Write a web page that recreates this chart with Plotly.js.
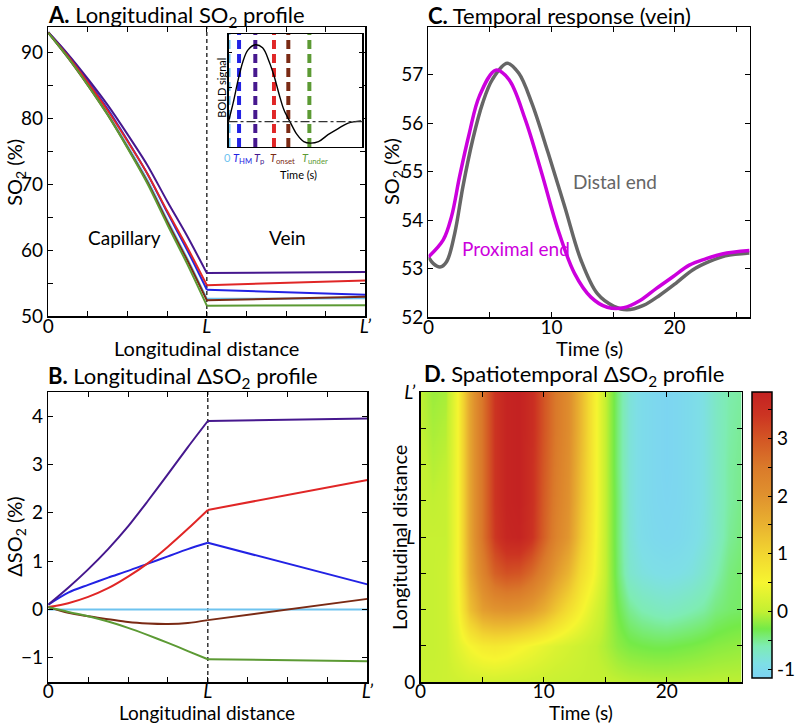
<!DOCTYPE html>
<html><head><meta charset="utf-8">
<script src="https://cdn.plot.ly/plotly-3.0.1.min.js"></script>
<style>html,body{margin:0;padding:0;background:#fff;}#chart{width:800px;height:725px;}</style>
</head><body><div id="chart"></div>
<script>
// ---------- Panels A & B: longitudinal profiles ----------
const positions = [0, 0.5, 1, 1.5, 2, 2.5, 3, 3.5, 4, 8];
const distTickVals = [0, 4, 8];
const distTickText = ['0', '<i>L</i>', '<i>L’</i>'];
const seriesColors = ['#6ec3ef', '#2222e4', '#46188e', '#e02626', '#7a2a14', '#5c9a34'];

const so2_t0     = [92.9, 89.2, 85.1, 80.7, 75.8, 70.6, 64.6, 58.8, 52.6, 52.7];
const so2_tHM    = [93.0, 89.55, 85.61, 81.36, 76.6, 71.55, 65.7, 60.05, 53.98, 53.22];
const so2_tP     = [93.0, 89.65, 85.93, 81.95, 77.52, 72.85, 67.4, 62.16, 56.5, 56.65];
const so2_tRed   = [92.95, 89.33, 85.36, 81.14, 76.48, 71.56, 65.9, 60.47, 54.66, 55.38];
const so2_tOnset = [92.95, 89.13, 84.96, 80.5, 75.54, 70.31, 64.3, 58.52, 52.38, 52.92];
const so2_tUnder = [92.95, 89.15, 84.96, 80.45, 75.42, 70.07, 63.91, 57.94, 51.57, 51.63];

const dso2_t0     = [0, 0, 0, 0, 0, 0, 0, 0, 0, 0];
const dso2_tHM    = [0.1, 0.35, 0.51, 0.66, 0.8, 0.95, 1.1, 1.25, 1.38, 0.52];
const dso2_tP     = [0.1, 0.45, 0.83, 1.25, 1.72, 2.25, 2.8, 3.36, 3.9, 3.95];
const dso2_tRed   = [0.05, 0.13, 0.26, 0.44, 0.68, 0.96, 1.3, 1.67, 2.06, 2.68];
const dso2_tOnset = [0.05, -0.07, -0.14, -0.2, -0.26, -0.29, -0.3, -0.28, -0.22, 0.22];
const dso2_tUnder = [0.05, -0.05, -0.14, -0.25, -0.38, -0.53, -0.69, -0.86, -1.03, -1.07];

// ---------- Inset: BOLD signal ----------
const boldTime   = [0, 0.48, 1.0, 1.5, 2.02, 2.8, 3.56, 4.25, 4.77, 5.3, 5.8, 6.5, 7.17, 7.86, 8.55, 9.4, 10.4, 11.46, 12.5, 13.86];
const boldSignal = [0, 0.24, 0.54, 0.78, 0.93, 1.0, 0.96, 0.78, 0.59, 0.35, 0.15, -0.02, -0.17, -0.26, -0.28, -0.26, -0.17, -0.09, -0.02, 0.01];
const eventTimes  = [0, 1.1, 2.8, 4.75, 6.25, 8.45];
const eventLabels = ['0', '<i>T</i><sub>HM</sub>', '<i>T</i><sub>p</sub>', '', '<i>T</i><sub>onset</sub>', '<i>T</i><sub>under</sub>'];

// ---------- Panel C: temporal response ----------
const timeProx = [0, 1.2, 1.87, 2.53, 3.33, 4.13, 5.47, 6.53, 7.87, 9.2, 10.53, 11.87, 13.2, 14.53, 15.87, 17.2, 18.53, 19.87, 21.2, 22.53, 23.87, 26.1];
const so2Prox  = [53.24, 53.59, 54.07, 54.9, 55.8, 56.55, 57.09, 56.9, 56.07, 54.97, 53.8, 52.9, 52.41, 52.2, 52.19, 52.34, 52.59, 52.83, 53.07, 53.2, 53.3, 53.37];
const timeDist = [0, 0.4, 0.93, 1.47, 2.13, 2.8, 3.6, 4.4, 5.2, 6.4, 7.33, 8.4, 9.73, 11.07, 12.4, 13.73, 15.07, 16.13, 17.47, 18.8, 20.13, 21.47, 22.8, 24.13, 26.1];
const so2Dist  = [53.24, 53.1, 53.03, 53.14, 53.72, 54.69, 55.66, 56.41, 56.9, 57.23, 57.03, 56.41, 55.38, 54.28, 53.17, 52.48, 52.22, 52.15, 52.24, 52.45, 52.7, 52.97, 53.14, 53.26, 53.32];
const timeTickVals = [0, 10, 20];
const so2TickVals = [52, 53, 54, 55, 56, 57];

// ---------- Panel D: spatiotemporal map ----------
const hmTime = [0,1,2,3,4,5,6,7,8,9,10,11,12,13,14,15,16,17,18,19,20,21,22,23,24,25,26];
const hmPos = [0,1,2,3,4,5,6,7,8];
const hmRow0 = [0.08,0.08,0.1,0.12,0.15,0.15,0.15,0.13,0.12,0.1,0.08,0.06,0.05,0.04,0.03,0.02,0,-0.02,-0.03,-0.04,-0.04,-0.04,-0.03,-0.03,-0.02,-0.02,-0.02];
const hmRow1 = [0.05,0.05,0.1,0.3,0.5,0.65,0.7,0.65,0.55,0.45,0.35,0.25,0.17,0.1,0.02,-0.08,-0.2,-0.27,-0.3,-0.32,-0.32,-0.3,-0.28,-0.25,-0.22,-0.2,-0.18];
const hmRow2 = [0.05,0.05,0.1,0.45,1.3,1.8,1.95,2.0,1.95,1.8,1.55,1.2,0.85,0.55,0.25,-0.05,-0.3,-0.5,-0.6,-0.65,-0.68,-0.65,-0.6,-0.55,-0.45,-0.4,-0.38];
const hmRow3 = [0.05,0.05,0.1,0.5,1.6,2.3,2.85,3.05,3.0,2.7,2.3,1.85,1.45,0.9,0.55,0,-0.4,-0.75,-0.85,-0.9,-0.92,-0.9,-0.85,-0.75,-0.6,-0.45,-0.4];
const hmRow4 = [0.05,0.05,0.05,0.5,1.7,2.6,3.35,3.7,3.75,3.45,2.85,2.3,1.9,1.2,0.65,0,-0.42,-0.8,-0.95,-1.02,-1.05,-1.02,-0.95,-0.85,-0.7,-0.52,-0.45];
const hmRow5 = [0.05,0,0.05,0.5,1.7,2.6,3.4,3.75,3.8,3.5,2.9,2.4,2.0,1.3,0.7,0,-0.42,-0.82,-0.97,-1.05,-1.08,-1.05,-0.97,-0.87,-0.7,-0.55,-0.48];
const hmRow6 = [0.05,-0.05,0,0.5,1.7,2.6,3.4,3.75,3.8,3.5,2.95,2.45,2.05,1.35,0.7,0,-0.45,-0.82,-0.97,-1.05,-1.1,-1.05,-0.97,-0.87,-0.7,-0.55,-0.5];
const hmRow7 = [0,-0.1,-0.05,0.5,1.7,2.6,3.4,3.75,3.8,3.55,3.0,2.5,2.1,1.4,0.7,0,-0.45,-0.82,-0.97,-1.05,-1.1,-1.05,-0.97,-0.87,-0.7,-0.57,-0.52];
const hmRow8 = [0,-0.15,-0.1,0.5,1.7,2.6,3.4,3.75,3.8,3.55,3.0,2.5,2.1,1.4,0.7,0,-0.45,-0.82,-0.97,-1.05,-1.1,-1.05,-0.97,-0.87,-0.7,-0.58,-0.55];
const cbTickVals = [-1,-0.5,0,0.5,1,1.5,2,2.5,3,3.5];
const cbTickText = ['-1',' ','0',' ','1',' ','2',' ','3',' '];

// ---------- helpers ----------
const F = 'Lato, "Open Sans", sans-serif';
const PX = x => x / 800;
const PY = y => 1 - y / 725;
const KINK = 8; // index of L in positions

const so2Series = [so2_t0, so2_tHM, so2_tP, so2_tRed, so2_tOnset, so2_tUnder];
const dso2Series = [dso2_t0, dso2_tHM, dso2_tP, dso2_tRed, dso2_tOnset, dso2_tUnder];

const traces = [];
function addProfile(series, xa, ya) {
  series.forEach((s, i) => {
    traces.push({x: positions.slice(0, KINK + 1), y: s.slice(0, KINK + 1), xaxis: xa, yaxis: ya, mode: 'lines',
      line: {color: seriesColors[i], width: 2, shape: 'spline', smoothing: 0.8}, hoverinfo: 'skip'});
    traces.push({x: positions.slice(KINK), y: s.slice(KINK), xaxis: xa, yaxis: ya, mode: 'lines',
      line: {color: seriesColors[i], width: 2}, hoverinfo: 'skip'});
  });
}
addProfile(so2Series, 'x', 'y');
addProfile(dso2Series, 'x2', 'y2');
eventTimes.forEach((t, i) => traces.push({x: [t, t], y: [-0.33, 1.14], xaxis: 'x5', yaxis: 'y5', mode: 'lines',
  line: {color: seriesColors[i], width: 4, dash: '9px,5px'}, hoverinfo: 'skip', cliponaxis: false}));
traces.push({x: boldTime, y: boldSignal, xaxis: 'x5', yaxis: 'y5', mode: 'lines',
  line: {color: '#000', width: 1.4, shape: 'spline', smoothing: 1}, hoverinfo: 'skip'});
traces.push({x: timeDist, y: so2Dist, xaxis: 'x3', yaxis: 'y3', mode: 'lines',
  line: {color: '#666666', width: 3.5, shape: 'spline', smoothing: 1}, hoverinfo: 'skip'});
traces.push({x: timeProx, y: so2Prox, xaxis: 'x3', yaxis: 'y3', mode: 'lines',
  line: {color: '#cc00dd', width: 3.5, shape: 'spline', smoothing: 1}, hoverinfo: 'skip'});
traces.push({type: 'heatmap', x: hmTime, y: hmPos,
  z: [hmRow0, hmRow1, hmRow2, hmRow3, hmRow4, hmRow5, hmRow6, hmRow7, hmRow8],
  xaxis: 'x4', yaxis: 'y4', zsmooth: 'best', zmin: -1.15, zmax: 3.8, hoverinfo: 'skip',
  colorscale: [[0, '#7cd3f4'], [0.0505, '#7edfe6'], [0.1111, '#7eecb4'], [0.1717, '#74ea48'],
    [0.2323, '#c2f032'], [0.3333, '#f6f530'], [0.4343, '#f2d630'], [0.5354, '#e9b230'],
    [0.6364, '#e0922e'], [0.7374, '#da7a2a'], [0.8384, '#d35524'], [0.9192, '#cc3422'], [1, '#c42222']],
  colorbar: {x: PX(763), xanchor: 'left', y: PY(392), yanchor: 'top', len: 286, lenmode: 'pixels',
    thickness: 20, thicknessmode: 'pixels', xpad: 0, ypad: 0, outlinewidth: 1.5, outlinecolor: '#000',
    ticks: 'inside', ticklen: 4, tickcolor: '#000', tickmode: 'array', tickvals: cbTickVals, ticktext: cbTickText,
    tickfont: {family: F, size: 19, color: '#000'}}
});

const axBase = {showline: true, linecolor: '#000', linewidth: 1.5, mirror: 'allticks', ticks: 'inside',
  ticklen: 5, tickwidth: 1, tickcolor: '#000', showgrid: false, zeroline: false, fixedrange: true,
  tickfont: {family: F, size: 19, color: '#000'}};
const xBase = Object.assign({}, axBase, {ticklabelstandoff: -7});
const minorTicks = d => ({tickmode: 'linear', tick0: 0, dtick: d, ticks: 'inside', ticklen: 5, tickcolor: '#000', showgrid: false});

const layout = {
  width: 800, height: 725, margin: {l: 0, r: 0, t: 0, b: 0},
  paper_bgcolor: '#fff', plot_bgcolor: '#fff', showlegend: false, font: {family: F, color: '#000'},
  xaxis:  Object.assign({}, xBase, {domain: [PX(49), PX(371)], anchor: 'y', range: [0, 8], tickmode: 'array', tickvals: distTickVals, ticktext: distTickText, minor: minorTicks(1)}),
  yaxis:  Object.assign({}, axBase, {domain: [PY(316), PY(27)], anchor: 'x', range: [50, 93.8], tick0: 0, dtick: 10, minor: minorTicks(5)}),
  xaxis2: Object.assign({}, xBase, {domain: [PX(49), PX(373)], anchor: 'y2', range: [0, 8], tickmode: 'array', tickvals: distTickVals, ticktext: distTickText, minor: minorTicks(1), ticklabelstandoff: -8}),
  yaxis2: Object.assign({}, axBase, {domain: [PY(682), PY(392)], anchor: 'x2', range: [-1.5, 4.5], tick0: 0, dtick: 1}),
  xaxis3: Object.assign({}, xBase, {domain: [PX(435), PX(761)], anchor: 'y3', range: [0, 26.1], tickmode: 'array', tickvals: timeTickVals, minor: minorTicks(5)}),
  yaxis3: Object.assign({}, axBase, {domain: [PY(317), PY(27)], anchor: 'x3', range: [52, 57.98], tickmode: 'array', tickvals: so2TickVals}),
  xaxis4: Object.assign({}, xBase, {domain: [PX(427), PX(753)], anchor: 'y4', range: [0, 26.1], tickmode: 'array', tickvals: timeTickVals, minor: minorTicks(5), ticklabelstandoff: -8}),
  yaxis4: Object.assign({}, axBase, {domain: [PY(682), PY(392)], anchor: 'x4', range: [0, 8], tickmode: 'array', tickvals: distTickVals, ticktext: distTickText, minor: minorTicks(1)}),
  xaxis5: Object.assign({}, axBase, {domain: [PX(232), PX(368)], anchor: 'y5', range: [0, 14], ticks: '', showticklabels: false, linewidth: 1.3}),
  yaxis5: Object.assign({}, axBase, {domain: [PY(147), PY(34)], anchor: 'x5', range: [-0.33, 1.14], tickmode: 'array', tickvals: [0, 0.45, 0.9], ticklen: 3, showticklabels: false, linewidth: 1.3}),
  shapes: [],
  annotations: []
};

layout.shapes.push({type: 'line', xref: 'x', yref: 'y domain', x0: 4, x1: 4, y0: 0, y1: 1, line: {color: '#000', width: 1.2, dash: '4px,3px'}, layer: 'below'});
layout.shapes.push({type: 'line', xref: 'x2', yref: 'y2 domain', x0: 4, x1: 4, y0: 0, y1: 1, line: {color: '#000', width: 1.2, dash: '4px,3px'}, layer: 'below'});
layout.shapes.push({type: 'line', xref: 'x5 domain', yref: 'y5', x0: 0, x1: 1, y0: 0, y1: 0, line: {color: '#333', width: 1.2, dash: 'dashdot'}});

const ann = (text, x, y, o) => Object.assign({text: text, x: x, y: y, xref: 'paper', yref: 'paper', showarrow: false,
  xanchor: 'center', yanchor: 'middle', font: {family: F, size: 20, color: '#000'}}, o || {});
const TF = {family: F, size: 22, color: '#000'};
const BF = {family: F, size: 19, color: '#000'};

layout.annotations.push(
  ann('<b>A.</b> Longitudinal SO<sub>2</sub> profile', PX(47), PY(16), {xanchor: 'left', font: TF}),
  ann('<b>B.</b> Longitudinal ΔSO<sub>2</sub> profile', PX(47), PY(377), {xanchor: 'left', font: TF}),
  ann('<b>C.</b> Temporal response (vein)', PX(432), PY(16), {xanchor: 'left', font: TF}),
  ann('<b>D.</b> Spatiotemporal ΔSO<sub>2</sub> profile', PX(428), PY(375), {xanchor: 'left', font: TF}),
  ann('Longitudinal distance', PX(210), PY(348)),
  ann('Longitudinal distance', PX(210), PY(725), {yanchor: 'bottom', borderpad: 0, font: BF}),
  ann('Time (s)', PX(598), PY(348)),
  ann('Time (s)', PX(590), PY(725), {yanchor: 'bottom', borderpad: 0, font: BF}),
  ann('SO<sub>2</sub> (%)', PX(15), PY(172), {textangle: -90}),
  ann('ΔSO<sub>2</sub> (%)', PX(15), PY(537), {textangle: -90}),
  ann('SO<sub>2</sub> (%)', PX(398), PY(172), {textangle: -90}),
  ann('Longitudinal distance', PX(405), PY(537), {textangle: -90}),
  ann('Capillary', PX(126), PY(237), {font: BF}),
  ann('Vein', PX(292), PY(237), {font: BF}),
  ann('Distal end', 11.6, 54.79, {xref: 'x3', yref: 'y3', xanchor: 'left', font: {family: F, size: 19, color: '#666666'}}),
  ann('Proximal end', 2.56, 53.41, {xref: 'x3', yref: 'y3', xanchor: 'left', font: {family: F, size: 19, color: '#cc00dd'}}),
  ann('BOLD signal', PX(224), PY(88), {textangle: -90, font: {family: F, size: 11, color: '#000'}}),
  ann('Time (s)', PX(303), PY(174), {font: {family: F, size: 11, color: '#000'}})
);
const labelPx = [231, 246, 263, 0, 287, 320];
eventLabels.forEach((lab, i) => {
  if (lab) layout.annotations.push(ann(lab, PX(labelPx[i]), PY(149), {yanchor: 'top',
    font: {family: F, size: 11, color: seriesColors[i]}}));
});

Plotly.newPlot('chart', traces, layout, {displayModeBar: false, staticPlot: true});
</script></body></html>
